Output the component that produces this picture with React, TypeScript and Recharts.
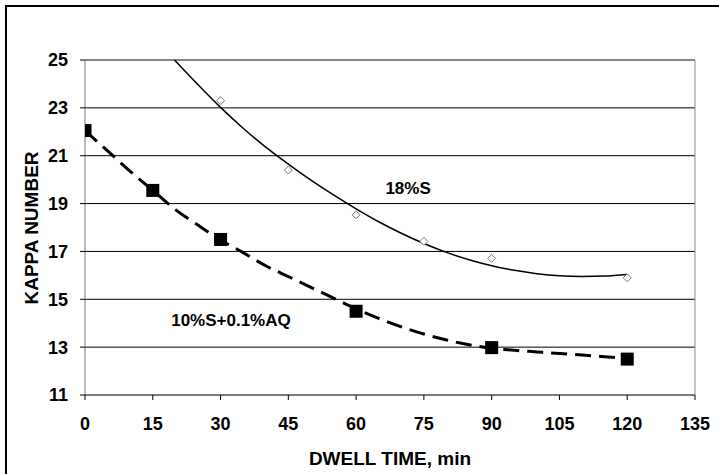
import React from 'react';
import { ComposedChart, Line, Scatter, XAxis, YAxis, CartesianGrid, ReferenceLine } from 'recharts';

// Measured points
const sulfideX = [30, 45, 60, 75, 90, 120];
const sulfideY = [23.3, 20.4, 18.53, 17.42, 16.71, 15.9];
const aqX = [0, 15, 30, 60, 90, 120];
const aqY = [22.05, 19.55, 17.5, 14.5, 12.98, 12.5];

// Trend curves
const sulfideTrendX = [19.8, 25, 30, 35, 40, 45, 50, 55, 60, 65, 70, 75, 80, 85, 90, 95, 100, 105, 110, 115, 120];
const sulfideTrendY = [25.0, 23.97, 23.02, 22.15, 21.36, 20.65, 19.98, 19.36, 18.78, 18.24, 17.76, 17.33, 16.96, 16.65, 16.4, 16.21, 16.07, 15.98, 15.95, 15.97, 16.04];
const aqTrendX = [0, 5, 10, 15, 20, 25, 30, 35, 40, 45, 50, 55, 60, 65, 70, 75, 80, 85, 90, 95, 100, 105, 110, 115, 120];
const aqTrendY = [22.05, 21.2, 20.35, 19.55, 18.75, 18.1, 17.48, 16.95, 16.4, 15.95, 15.5, 15.05, 14.6, 14.2, 13.85, 13.55, 13.3, 13.1, 12.95, 12.87, 12.8, 12.73, 12.67, 12.6, 12.53];

const xTicks = [0, 15, 30, 45, 60, 75, 90, 105, 120, 135];
const yTicks = [11, 13, 15, 17, 19, 21, 23, 25];

const annotations = [
  { x: 71.5, y: 19.65, text: '18%S' },
  { x: 32.3, y: 14.13, text: '10%S+0.1%AQ' },
];

const zip = (xs: number[], ys: number[]) => xs.map((x, i) => ({ x, y: ys[i] }));

const sulfideData = zip(sulfideX, sulfideY);
const aqData = zip(aqX, aqY);
const sulfideTrend = zip(sulfideTrendX, sulfideTrendY);
const aqTrend = zip(aqTrendX, aqTrendY);

const FONT = '"Liberation Sans", Arial, sans-serif';

const Diamond = (props: any) => {
  const { cx, cy } = props;
  if (cx == null || cy == null) return null;
  const s = 4;
  return (
    <polygon
      points={`${cx},${cy - s} ${cx + s},${cy} ${cx},${cy + s} ${cx - s},${cy}`}
      fill="#fff"
      stroke="#777"
      strokeWidth={1}
    />
  );
};

const Square = (props: any) => {
  const { cx, cy } = props;
  if (cx == null || cy == null) return null;
  const s = 6.5;
  return <rect x={cx - s} y={cy - s} width={2 * s} height={2 * s} fill="#000" />;
};

const TextMark = (props: any) => {
  const { cx, cy, payload } = props;
  if (cx == null || cy == null) return null;
  return (
    <text
      x={cx}
      y={cy}
      textAnchor="middle"
      dominantBaseline="central"
      fontFamily={FONT}
      fontWeight="bold"
      fontSize={17}
      fill="#000"
    >
      {payload.text}
    </text>
  );
};

const tickStyle = { fontFamily: FONT, fontWeight: 'bold', fontSize: 18, fill: '#000' } as any;

export default function App() {
  return (
    <div style={{ position: 'absolute', left: 0, top: 0, width: 719, height: 474, background: '#fff', overflow: 'hidden' }}>
      <div
        style={{
          position: 'absolute',
          left: 5,
          top: 5,
          width: 720,
          height: 480,
          borderLeft: '2px solid #000',
          borderTop: '2px solid #000',
        }}
      />
      <div style={{ position: 'absolute', left: 0, top: 0 }}>
        <ComposedChart width={719} height={474} margin={{ top: 60, right: 24, bottom: 29, left: 25 }}>
          <CartesianGrid horizontal={true} vertical={false} stroke="#000" strokeWidth={1} />
          <XAxis
            type="number"
            dataKey="x"
            domain={[0, 135]}
            ticks={xTicks}
            interval={0}
            height={50}
            tickSize={5}
            tickMargin={17}
            stroke="#777"
            tick={tickStyle}
            tickLine={{ stroke: '#000' }}
            allowDataOverflow
          />
          <YAxis
            type="number"
            dataKey="y"
            domain={[11, 25]}
            ticks={yTicks}
            interval={0}
            width={60}
            tickSize={5}
            tickMargin={12}
            stroke="#777"
            tick={tickStyle}
            tickLine={{ stroke: '#000' }}
            allowDataOverflow
          />
          <ReferenceLine x={135} stroke="#888" strokeWidth={1} />
          <ReferenceLine y={25} stroke="#888" strokeWidth={1} />
          <Line
            data={sulfideTrend}
            dataKey="y"
            type="monotone"
            stroke="#000"
            strokeWidth={1.5}
            dot={false}
            activeDot={false}
            isAnimationActive={false}
          />
          <Line
            data={aqTrend}
            dataKey="y"
            type="monotone"
            stroke="#000"
            strokeWidth={3}
            strokeDasharray="16 8"
            dot={false}
            activeDot={false}
            isAnimationActive={false}
          />
          <Scatter data={sulfideData} dataKey="y" shape={Diamond} isAnimationActive={false} />
          <Scatter data={aqData} dataKey="y" shape={Square} isAnimationActive={false} />
          <Scatter data={annotations} dataKey="y" shape={TextMark} isAnimationActive={false} />
        </ComposedChart>
      </div>
      <svg width={719} height={474} style={{ position: 'absolute', left: 0, top: 0, pointerEvents: 'none' }}>
        <text
          x={31}
          y={228}
          transform="rotate(-90 31 228)"
          textAnchor="middle"
          dominantBaseline="central"
          fontFamily={FONT}
          fontWeight="bold"
          fontSize={19}
          fill="#000"
        >
          KAPPA NUMBER
        </text>
        <text
          x={390}
          y={458}
          textAnchor="middle"
          dominantBaseline="central"
          fontFamily={FONT}
          fontWeight="bold"
          fontSize={19}
          fill="#000"
        >
          DWELL TIME, min
        </text>
      </svg>
    </div>
  );
}
